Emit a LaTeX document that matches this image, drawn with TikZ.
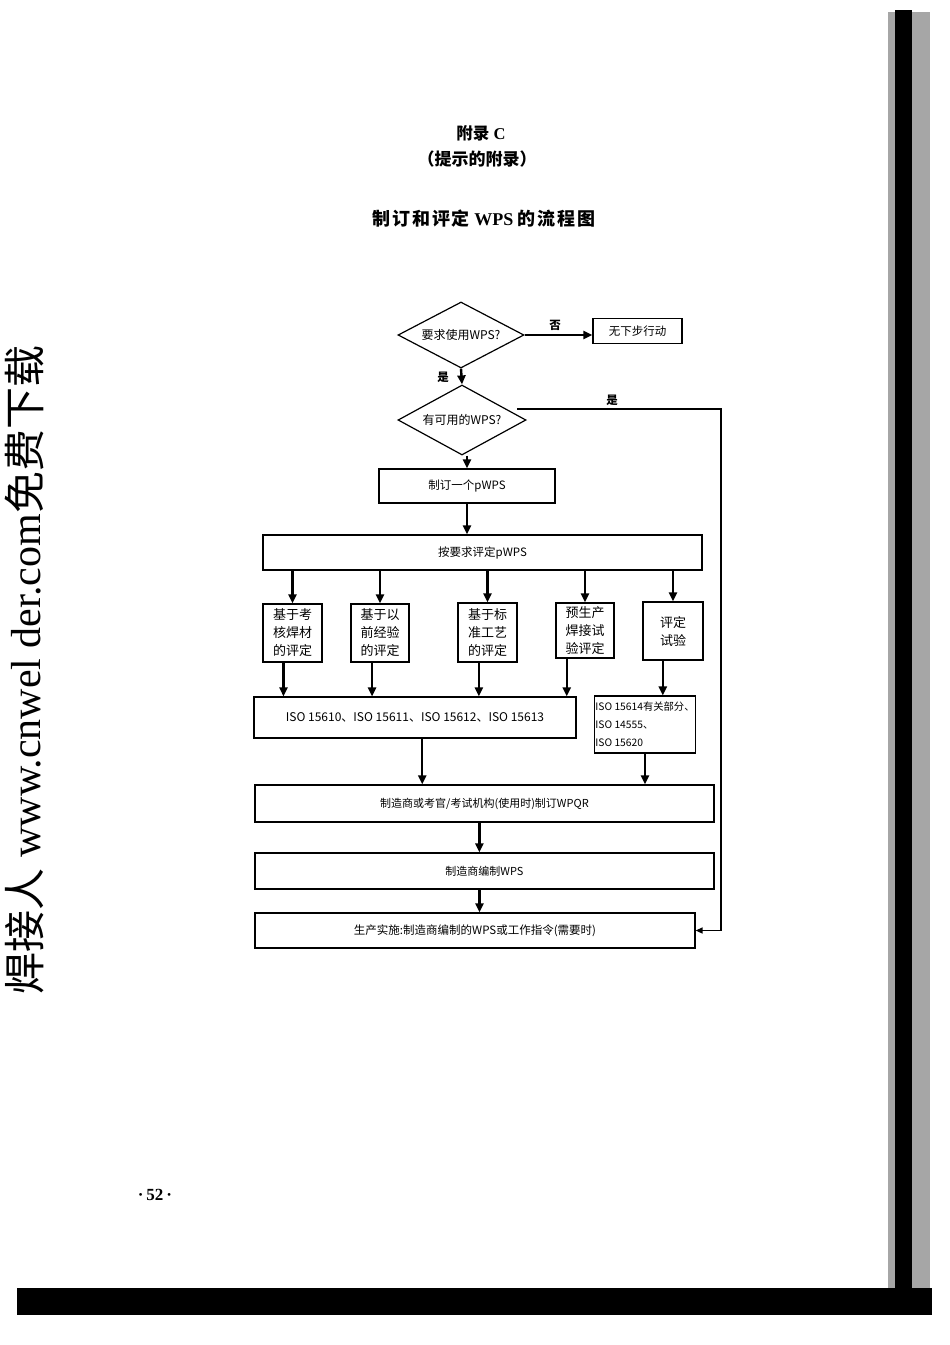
\documentclass[tikz,border=0pt]{standalone}
\usepackage{fontspec}
\setmainfont{Liberation Serif}
\newfontfamily\cjk{Noto Sans CJK SC}
\newfontfamily\cjktitle[LetterSpace=10]{Noto Sans CJK SC}
\usetikzlibrary{shapes.geometric}
\usetikzlibrary{arrows.meta}

\begin{document}
\begin{tikzpicture}[x=1pt, y=-1pt,
  box/.style={draw, line width=1.2pt, inner sep=1pt, align=center, font=\cjk\fontsize{11.5}{17}\selectfont},
  decision/.style={draw, diamond, aspect=2, line width=1.2pt, inner sep=0pt, font=\cjk\fontsize{12}{14}\selectfont},
  flow/.style={line width=2.4pt, -{Triangle[length=9pt, width=8pt]}},
  thinflow/.style={line width=1.3pt, -{Triangle[length=7pt, width=6pt]}},
  tag/.style={font=\cjk\bfseries\fontsize{11.5}{13}\selectfont}]
%%% page %%%
\fill[white] (0,0) rectangle (950,1345);
\useasboundingbox (0,0) rectangle (950,1345);
\fill[black!35] (888,12) rectangle (930,1288);
\fill[black] (895,10) rectangle (912,1288);
\fill[black] (17,1288) rectangle (932,1315);

\node[rotate=90, font=\fontsize{42}{42}\selectfont] (mark) at (25,670)
  {{\cjk 焊接人} www.cnwel der.com{\cjk 免费下载}};
\node[font=\bfseries\fontsize{17}{17}\selectfont] (page) at (155,1195) {·\,52\,·};

%%% headings %%%
\node[font=\bfseries\fontsize{16.5}{16.5}\selectfont] (appx) at (481,133) {{\cjk 附录} C};
\node[font=\cjk\bfseries\fontsize{17}{17}\selectfont] (hint) at (477,159) {（提示的附录）};
\node[font=\bfseries\fontsize{18}{18}\selectfont] (title) at (484,219)
  {{\cjktitle 制订和评定} WPS {\cjktitle 的流程图}};

%%% flow chart %%%
\node[decision, minimum width=126pt, minimum height=66pt] (need) at (461,335) {要求使用WPS?};
\node[box, minimum width=89pt, minimum height=25pt] (none) at (637.5,331) {无下步行动};
\node[decision, minimum width=128pt, minimum height=70pt] (have) at (462,420) {有可用的WPS?};
\node[box, minimum width=176pt, minimum height=34pt] (draft) at (467,486) {制订一个pWPS};
\node[box, minimum width=439pt, minimum height=35pt] (qualify) at (482.5,552.5) {按要求评定pWPS};
%%
\tikzset{small/.style={box, font=\cjk\fontsize{13}{18}\selectfont}}
\node[small, minimum width=59pt, minimum height=58pt] (cons) at (292.5,633) {基于考\\核焊材\\的评定};
\node[small, minimum width=58pt, minimum height=58pt] (prev) at (380,633) {基于以\\前经验\\的评定};
\node[small, minimum width=59pt, minimum height=59pt] (std) at (487.5,632.5) {基于标\\准工艺\\的评定};
\node[small, minimum width=58pt, minimum height=55pt] (pre) at (585,630.5) {预生产\\焊接试\\验评定};
\node[small, minimum width=60pt, minimum height=58pt] (test) at (673,631) {评定\\试验};
%%
\node[box, minimum width=322pt, minimum height=41pt, font=\cjk\fontsize{12}{14}\selectfont] (iso) at (415,717.5)
  {ISO 15610、ISO 15611、ISO 15612、ISO 15613};
\node[box, minimum width=98pt, minimum height=57pt, align=left, inner sep=1pt,
  font=\cjk\fontsize{10.3}{18}\selectfont] (isor) at (645,724.5)
  {ISO 15614有关部分、\\ISO 14555、\\ISO 15620};
%%
\node[box, minimum width=459pt, minimum height=37pt, font=\cjk\fontsize{11}{13}\selectfont] (wpqr) at (484.5,803.5)
  {制造商或考官/考试机构(使用时)制订WPQR};
\node[box, minimum width=459pt, minimum height=36pt, font=\cjk\fontsize{11}{13}\selectfont] (wps) at (484.5,871)
  {制造商编制WPS};
\node[box, minimum width=440pt, minimum height=35pt, font=\cjk\fontsize{11.5}{13}\selectfont] (final) at (475,930.5)
  {生产实施:制造商编制的WPS或工作指令(需要时)};

%%% connectors %%%
\draw[flow] (need.east) -- (need.east -| none.west);
\node[tag] (no) at (555,325) {否};
\draw[flow] (need.south) -- (have.north);
\node[tag] (yes1) at (443,377) {是};
\coordinate (yesfrom) at (517,409);
\coordinate (yesbend) at (721,409);
\draw[thinflow] (yesfrom) -- (yesbend) |- (final.east);
\node[tag] (yes2) at (612,400) {是};
\draw[flow] (have.south -| draft.north) -- (draft.north);
\draw[flow] (draft.south) -- (draft.south |- qualify.north);
%%
\draw[flow] (cons.north |- qualify.south) -- (cons.north);
\draw[flow] (prev.north |- qualify.south) -- (prev.north);
\draw[flow] (std.north |- qualify.south) -- (std.north);
\draw[flow] (pre.north |- qualify.south) -- (pre.north);
\draw[flow] (test.north |- qualify.south) -- (test.north);
%%
\draw[flow] (cons.253) -- (cons.253 |- iso.north);
\draw[flow] (prev.255) -- (prev.255 |- iso.north);
\draw[flow] (std.254) -- (std.254 |- iso.north);
\draw[flow] (pre.237) -- (pre.237 |- iso.north);
\draw[flow] (test.251) -- (test.251 |- isor.north);
%%
\draw[flow] (iso.289) -- (iso.289 |- wpqr.north);
\draw[flow] (isor.south) -- (isor.south |- wpqr.north);
\draw[flow] (wpqr.255) -- (wpqr.255 |- wps.north);
\draw[flow] (wps.255) -- (wps.255 |- final.north);

\end{tikzpicture}
\end{document}
